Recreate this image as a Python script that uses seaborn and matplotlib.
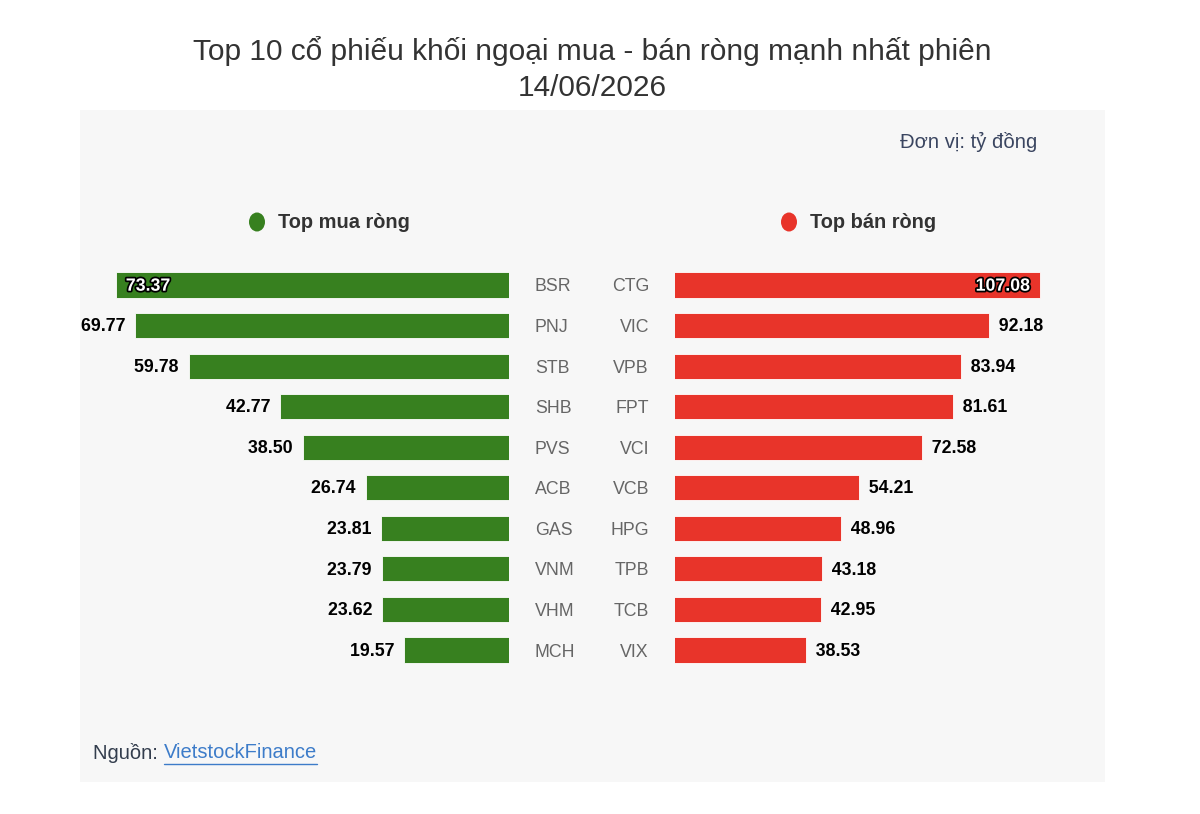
import matplotlib.pyplot as plt
import matplotlib.patheffects as pe
from matplotlib.patches import Rectangle, Ellipse
import seaborn as sns

# Net buy / net sell by foreign investors (ty dong)
buy_tickers = ['BSR', 'PNJ', 'STB', 'SHB', 'PVS', 'ACB', 'GAS', 'VNM', 'VHM', 'MCH']
buy_values = [73.37, 69.77, 59.78, 42.77, 38.50, 26.74, 23.81, 23.79, 23.62, 19.57]
sell_tickers = ['CTG', 'VIC', 'VPB', 'FPT', 'VCI', 'VCB', 'HPG', 'TPB', 'TCB', 'VIX']
sell_values = [107.08, 92.18, 83.94, 81.61, 72.58, 54.21, 48.96, 43.18, 42.95, 38.53]

title = 'Top 10 cổ phiếu khối ngoại mua - bán ròng mạnh nhất phiên\n14/06/2026'
GREEN = '#37801f'
RED = '#e8342a'
W, H = 1200, 814


def fx(px):
    return px / W


def fy(py):
    return 1 - py / H


def main():
    sns.set_theme(style='white')
    plt.rcParams['font.family'] = ['Liberation Sans', 'DejaVu Sans']

    fig = plt.figure(figsize=(12, 8.14), dpi=100)
    fig.patch.set_facecolor('white')

    # light gray card behind the chart
    fig.patches.append(Rectangle((fx(80), fy(782)), fx(1105) - fx(80), fy(110) - fy(782),
                                 transform=fig.transFigure, facecolor='#f7f7f7',
                                 edgecolor='none', zorder=-1))

    bottom = fy(670.3)
    height = fy(264.7) - bottom
    ax_buy = fig.add_axes([fx(80.4), bottom, fx(509) - fx(80.4), height])
    ax_sell = fig.add_axes([fx(675), bottom, fx(1105) - fx(675), height])

    sns.barplot(x=buy_values, y=buy_tickers, orient='h', color=GREEN, width=0.62,
                saturation=1, edgecolor='white', linewidth=0.6, ax=ax_buy)
    sns.barplot(x=sell_values, y=sell_tickers, orient='h', color=RED, width=0.62,
                saturation=1, edgecolor='white', linewidth=0.6, ax=ax_sell)

    ax_buy.set_xlim(80, 0)
    ax_sell.set_xlim(0.3, 126.1)

    for ax in (ax_buy, ax_sell):
        ax.set_ylim(9.5, -0.5)
        ax.set_facecolor('none')
        ax.set_xticks([])
        ax.set_xlabel('')
        ax.set_ylabel('')
        for s in ax.spines.values():
            s.set_visible(False)
        ax.tick_params(axis='y', length=0, pad=18.7, labelsize=12.8, labelcolor='#666666')

    ax_buy.yaxis.tick_right()
    for lbl in ax_buy.get_yticklabels():
        lbl.set_ha('left')

    # value labels
    stroke = [pe.withStroke(linewidth=2.5, foreground='black')]
    for i, v in enumerate(buy_values):
        if i == 0:
            ax_buy.text(v, i + 0.03, f'  {v:.2f}', ha='left', va='center', color='white',
                        fontsize=12.8, fontweight='bold', path_effects=stroke)
        else:
            ax_buy.text(v, i + 0.03, f'{v:.2f}  ', ha='right', va='center', color='black',
                        fontsize=12.8, fontweight='bold')
    for i, v in enumerate(sell_values):
        if i == 0:
            ax_sell.text(v, i + 0.03, f'{v:.2f}  ', ha='right', va='center', color='white',
                         fontsize=12.8, fontweight='bold', path_effects=stroke)
        else:
            ax_sell.text(v, i + 0.03, f'  {v:.2f}', ha='left', va='center', color='black',
                         fontsize=12.8, fontweight='bold')

    # title and notes
    fig.text(fx(592.5), fy(69), title, ha='center', va='center', fontsize=21.5,
             color='#333333', linespacing=1.33)
    fig.text(fx(1037), fy(142), 'Đơn vị: tỷ đồng', ha='right', va='center',
             fontsize=14.6, color='#3a4560')

    # legend
    for cx, label, c in [(257, 'Top mua ròng', GREEN), (789, 'Top bán ròng', RED)]:
        fig.patches.append(Ellipse((fx(cx), fy(222)), fx(16), 19 / H,
                                   transform=fig.transFigure, facecolor=c, edgecolor='none'))
        fig.text(fx(cx + 21), fy(223), label, ha='left', va='center', fontsize=14.4,
                 fontweight='bold', color='#333333')

    # source
    src = fig.text(fx(93), fy(753), 'Nguồn: ', ha='left', va='center', fontsize=14.5,
                   color='#333d4d')
    fig.canvas.draw()
    bb = src.get_window_extent()
    link = fig.text(bb.x1 / W, fy(753), 'VietstockFinance', ha='left', va='center',
                    fontsize=14.5, color='#3d7cc9')
    fig.canvas.draw()
    lb = link.get_window_extent()
    fig.add_artist(plt.Line2D([lb.x0 / W, lb.x1 / W], [(lb.y0 - 1) / H, (lb.y0 - 1) / H],
                              transform=fig.transFigure, color='#3d7cc9', linewidth=1))

    fig.savefig('out.png', dpi=100, facecolor='white')


if __name__ == '__main__':
    main()
